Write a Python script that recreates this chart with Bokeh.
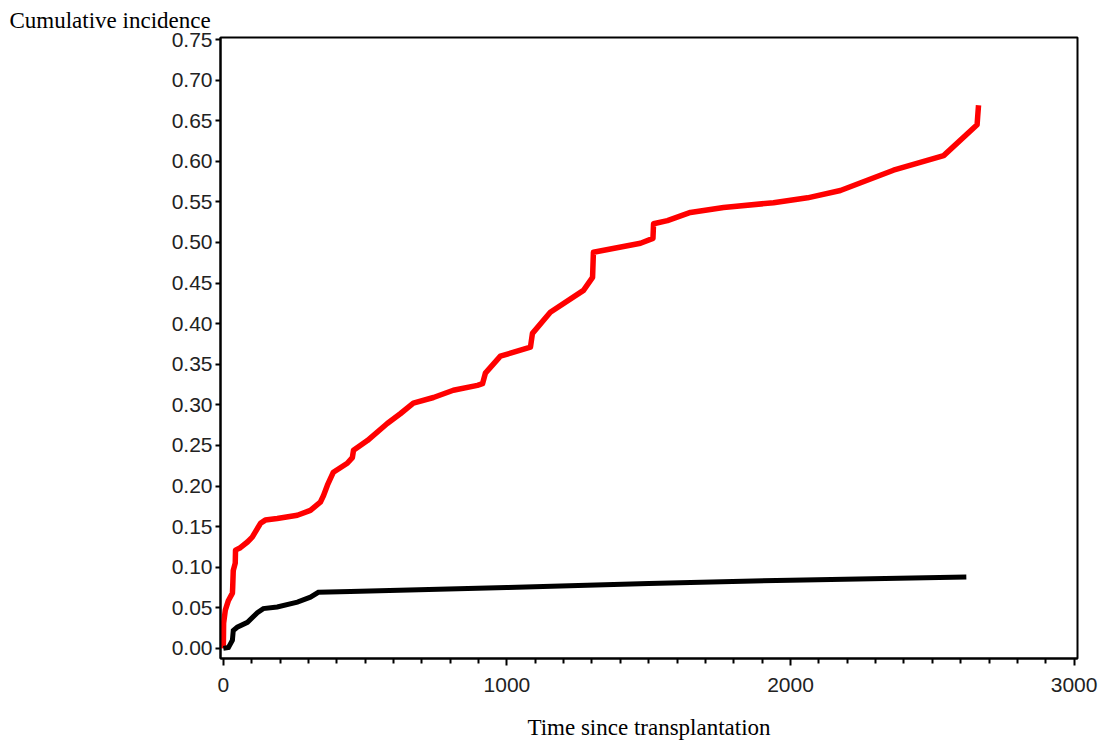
from bokeh.plotting import figure
from bokeh.models import Range1d, FixedTicker, Title, CustomJSTickFormatter
from bokeh.embed import file_html
from bokeh.resources import INLINE

# Cumulative incidence curves (time in days)
red_time = [0, 1, 7, 18, 32, 33, 35, 42, 43, 60, 85, 102, 131, 148, 190, 261, 307, 342,
            353, 367, 388, 437, 455, 459, 508, 578, 624, 670, 741, 811, 896, 914, 924,
            977, 1083, 1090, 1153, 1270, 1302, 1305, 1471, 1515, 1517, 1566, 1647, 1764,
            1940, 2060, 2176, 2363, 2540, 2658, 2660, 2663]
red_value = [0.000, 0.031, 0.047, 0.059, 0.068, 0.075, 0.096, 0.105, 0.121, 0.124, 0.131,
             0.137, 0.154, 0.158, 0.160, 0.164, 0.170, 0.180, 0.188, 0.201, 0.217, 0.228,
             0.235, 0.244, 0.256, 0.277, 0.289, 0.302, 0.309, 0.318, 0.324, 0.326, 0.339,
             0.360, 0.371, 0.388, 0.414, 0.441, 0.457, 0.488, 0.499, 0.505, 0.523, 0.527,
             0.537, 0.543, 0.549, 0.555, 0.564, 0.589, 0.607, 0.645, 0.655, 0.669]

black_time = [0, 18, 32, 35, 49, 85, 120, 141, 190, 261, 307, 335, 448, 1000, 1500,
              2000, 2620]
black_value = [0.000, 0.001, 0.010, 0.022, 0.026, 0.032, 0.044, 0.049, 0.051, 0.057,
               0.063, 0.069, 0.070, 0.075, 0.080, 0.084, 0.088]

y_ticks = [round(0.05 * i, 2) for i in range(16)]
x_ticks = [0, 1000, 2000, 3000]
x_minor = [t for t in range(0, 3001, 100) if t % 1000 != 0]

p = figure(width=1101, height=745, output_backend="svg", toolbar_location=None,
           x_range=Range1d(-10, 3012), y_range=Range1d(-0.0125, 0.7525),
           min_border_left=220, min_border_right=24, min_border_top=37,
           min_border_bottom=87)

p.background_fill_color = "white"
p.border_fill_color = "white"
p.outline_line_color = "black"
p.outline_line_width = 2
p.grid.visible = False

p.line(red_time, red_value, line_color="#ff0000", line_width=5.5, line_join="round")
p.line(black_time, black_value, line_color="black", line_width=5, line_join="miter")

# axes
for ax in (p.xaxis[0], p.yaxis[0]):
    ax.axis_line_color = "black"
    ax.axis_line_width = 2
    ax.major_tick_line_color = "black"
    ax.major_tick_line_width = 2
    ax.minor_tick_line_color = "black"
    ax.minor_tick_line_width = 2
    ax.major_tick_in = 0
    ax.minor_tick_in = 0
    ax.major_label_text_font = "Liberation Sans"
    ax.major_label_text_font_size = "21px"
    ax.major_label_text_color = "#222222"

p.xaxis.ticker = FixedTicker(ticks=x_ticks, minor_ticks=x_minor)
p.xaxis.major_tick_out = 7
p.xaxis.minor_tick_out = 5
p.xaxis.major_label_standoff = 12
p.xaxis.axis_label = "Time since transplantation"
p.xaxis.axis_label_text_font = "Liberation Serif"
p.xaxis.axis_label_text_font_style = "normal"
p.xaxis.axis_label_text_font_size = "23px"
p.xaxis.axis_label_text_color = "black"
p.xaxis.axis_label_standoff = 20

p.yaxis.ticker = FixedTicker(ticks=y_ticks, minor_ticks=[])
p.yaxis.major_tick_out = 5
p.yaxis.minor_tick_out = 0
p.yaxis.major_label_standoff = 3
p.yaxis.formatter = CustomJSTickFormatter(code="return tick.toFixed(2);")

# y-axis caption placed above the top-left corner
caption = Title(text="Cumulative incidence", align="left", offset=-211,
                text_font="Liberation Serif", text_font_size="23px",
                text_font_style="normal", text_color="black", standoff=9)
p.add_layout(caption, "above")

open("out.html", "w").write(file_html(p, INLINE))
